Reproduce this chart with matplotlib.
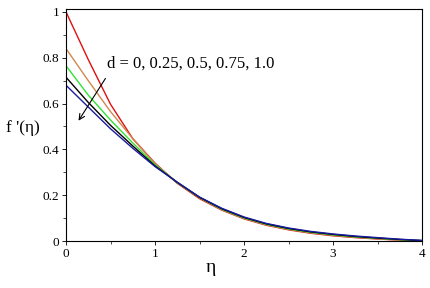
import numpy as np
import matplotlib.pyplot as plt
from matplotlib.ticker import MultipleLocator

# ------------- data ------------------------------------------

eta = [0.0, 0.25, 0.5, 0.75, 1.0, 1.25, 1.5, 1.75, 2.0,
       2.25, 2.5, 2.75, 3.0, 3.25, 3.5, 3.75, 4.0]

d_values = ["0", "0.25", "0.5", "0.75", "1.0"]

fp_d000 = [1.000, 0.792, 0.597, 0.447, 0.340, 0.252, 0.185, 0.135, 0.097,
           0.069, 0.049, 0.034, 0.023, 0.015, 0.009, 0.004, 0.000]
fp_d025 = [0.840, 0.700, 0.565, 0.447, 0.337, 0.254, 0.189, 0.137, 0.099,
           0.071, 0.051, 0.036, 0.025, 0.017, 0.010, 0.005, 0.000]
fp_d050 = [0.765, 0.637, 0.528, 0.428, 0.333, 0.255, 0.190, 0.139, 0.101,
           0.073, 0.053, 0.038, 0.027, 0.018, 0.012, 0.006, 0.001]
fp_d075 = [0.715, 0.605, 0.505, 0.415, 0.328, 0.256, 0.191, 0.141, 0.103,
           0.075, 0.055, 0.040, 0.029, 0.020, 0.013, 0.007, 0.002]
fp_d100 = [0.680, 0.585, 0.490, 0.405, 0.325, 0.257, 0.192, 0.143, 0.105,
           0.077, 0.057, 0.042, 0.031, 0.022, 0.015, 0.008, 0.003]

series = [fp_d000, fp_d025, fp_d050, fp_d075, fp_d100]
colors = ["#e01010", "#d08850", "#33e033", "#000000", "#1a1aa0"]

# ------------- plotting -----------------

plt.rcParams["font.family"] = ["Liberation Serif", "DejaVu Serif"]

fig = plt.figure(figsize=(4.30, 2.88), dpi=100)
ax = fig.add_axes([0.1535, 0.163, 0.828, 0.806])

for y, c in zip(series, colors):
    ax.plot(eta, y, color=c, linewidth=1.0)

ax.set_xlim(0, 4)
ax.set_ylim(0, 1.013)
ax.xaxis.set_major_locator(MultipleLocator(1))
ax.xaxis.set_minor_locator(MultipleLocator(0.5))
ax.yaxis.set_minor_locator(MultipleLocator(0.1))
ax.set_yticks([0, 0.2, 0.4, 0.6, 0.8, 1.0])
ax.set_yticklabels(["0", "0.2", "0.4", "0.6", "0.8", "1"])
ax.tick_params(which="major", length=3, width=0.6, labelsize=9.5, pad=2)
ax.tick_params(which="minor", length=2, width=0.5)
for s in ax.spines.values():
    s.set_linewidth(0.8)

ax.text(0.46, 0.773, "d = 0, 0.25, 0.5, 0.75, 1.0", fontsize=12,
        va="center", ha="left")
ax.annotate("", xy=(0.124, 0.515), xytext=(0.46, 0.72),
            arrowprops=dict(arrowstyle="->", color="black", lw=0.8))

fig.text(0.49, 0.07, "η", fontsize=14, ha="center", va="center")
fig.text(0.053, 0.555, "f '(η)", fontsize=12.5, ha="center", va="center")

fig.savefig("out.png", dpi=100)
